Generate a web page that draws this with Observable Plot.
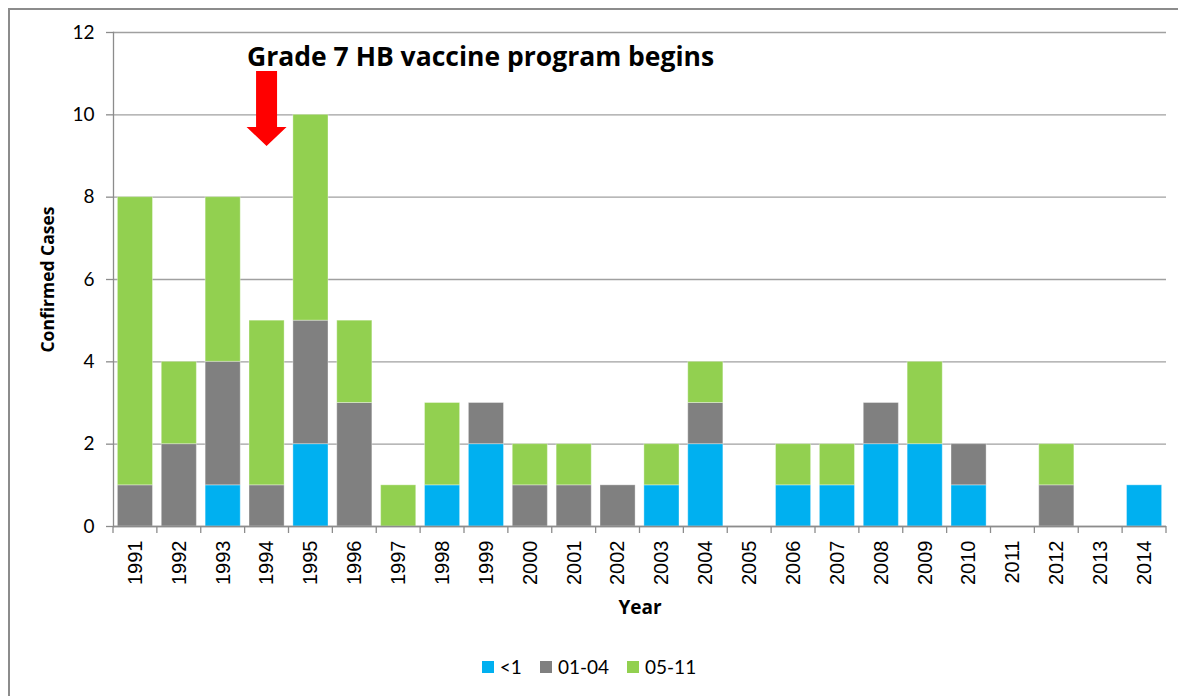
<!DOCTYPE html>
<html>
<head>
<meta charset="utf-8">
<script src="https://cdn.jsdelivr.net/npm/d3@7"></script>
<script src="https://cdn.jsdelivr.net/npm/@observablehq/plot@0.6"></script>
<style>
  html, body { margin: 0; padding: 0; background: #fff; }
  #wrap { position: relative; width: 1178px; height: 696px; overflow: hidden; }
  #frame { position: absolute; left: 8px; top: 8px; width: 1200px; height: 720px; border-left: 2px solid #8c8c8c; border-top: 2px solid #8c8c8c; box-sizing: border-box; pointer-events: none; }
  #legend { position: absolute; left: 0; width: 1178px; top: 655px; display: flex; justify-content: center; gap: 18px; font-family: Lato, sans-serif; font-size: 19px; color: #000; }
  #legend .item { display: flex; align-items: center; gap: 6px; }
  #legend .sw { width: 12px; height: 12px; display: inline-block; }
</style>
</head>
<body>
<div id="wrap">
  <div id="chart"></div>
  <div id="legend"></div>
  <div id="frame"></div>
</div>
<script>
const years = ["1991","1992","1993","1994","1995","1996","1997","1998","1999","2000","2001","2002","2003","2004","2005","2006","2007","2008","2009","2010","2011","2012","2013","2014"];
const seriesNames = ["<1", "01-04", "05-11"];
const under1   = [0,0,1,0,2,0,0,1,2,0,0,0,1,2,0,1,1,2,2,1,0,0,0,1];
const age01_04 = [1,2,3,1,3,3,0,0,1,1,1,1,0,1,0,0,0,1,0,1,0,1,0,0];
const age05_11 = [7,2,4,4,5,2,1,2,0,1,1,0,1,1,0,1,1,0,2,0,0,1,0,0];
const colors = ["#00B0F0", "#808080", "#92D050"];
const yTicks = [0, 2, 4, 6, 8, 10, 12];
const annotationText = "Grade 7 HB vaccine program begins";
const annotationYear = "1994";
const arrowTop = 11.05, arrowTip = 9.23, annotationY = 11.4;

const seriesValues = [under1, age01_04, age05_11];
const data = [];
years.forEach((yr, i) => {
  seriesNames.forEach((s, j) => {
    data.push({year: yr, group: s, value: seriesValues[j][i]});
  });
});

function boundaryTicks() {
  return (index, scales, values, dimensions) => {
    const x = scales.x;
    const step = x.step ? x.step() : (dimensions.width - dimensions.marginLeft - dimensions.marginRight) / years.length;
    const bw = x.bandwidth ? x.bandwidth() : step * 0.8;
    const yb = scales.y(0);
    const g = d3.create("svg:g");
    const pos = years.map(y => x(y) - (step - bw) / 2);
    pos.push(x(years[years.length - 1]) + bw + (step - bw) / 2);
    for (const p of pos) {
      g.append("line").attr("x1", p).attr("x2", p).attr("y1", yb).attr("y2", yb + 7)
        .attr("stroke", "#8c8c8c").attr("stroke-width", 1.3);
    }
    return g.node();
  };
}

function arrowMark() {
  return (index, scales) => {
    const x = scales.x;
    const bw = x.bandwidth ? x.bandwidth() : 35;
    const cx = x(annotationYear) + bw / 2;
    const yTop = scales.y(arrowTop), yTip = scales.y(arrowTip);
    const headH = 19, shaftHalf = 10.5, headHalf = 20;
    const yNeck = yTip - headH;
    const path = `M${cx - shaftHalf},${yTop} L${cx + shaftHalf},${yTop} L${cx + shaftHalf},${yNeck} L${cx + headHalf},${yNeck} L${cx},${yTip} L${cx - headHalf},${yNeck} L${cx - shaftHalf},${yNeck} Z`;
    return d3.create("svg:path").attr("d", path).attr("fill", "#FF0000").node();
  };
}

const plot = Plot.plot({
  width: 1178,
  height: 696,
  marginLeft: 113,
  marginRight: 12,
  marginTop: 32,
  marginBottom: 170,
  style: {background: "transparent", fontFamily: "Lato, sans-serif"},
  x: {domain: years, paddingInner: 0.2, paddingOuter: 0.1, round: false, label: null, axis: null},
  y: {domain: [0, 12], label: null, axis: null},
  color: {domain: seriesNames, range: colors},
  marks: [
    Plot.ruleY(yTicks, {stroke: "#a0a0a0", strokeWidth: 1.3, strokeOpacity: 1}),
    Plot.barY(data, Plot.stackY({filter: d => d.value > 0, x: "year", y: "value", fill: "group", order: seriesNames, stroke: "#ffffff", strokeOpacity: 0.35, strokeWidth: 1})),
    Plot.axisY(yTicks, {anchor: "left", tickSize: 7, tickPadding: 12, fontSize: 19, fill: "#000", stroke: "#8c8c8c", strokeWidth: 1.3, strokeOpacity: 1, label: null, fontFamily: "Lato, sans-serif"}),
    Plot.frame({anchor: "left", stroke: "#8c8c8c", strokeWidth: 1.3}),
    Plot.ruleY([0], {stroke: "#8c8c8c", strokeWidth: 1.3}),
    Plot.axisX(years, {anchor: "bottom", tickSize: 0, tickRotate: -90, tickPadding: 14, fontSize: 20, fill: "#000", label: null, fontFamily: "'Liberation Sans', Arial, sans-serif"}),
    boundaryTicks(),
    arrowMark(),
    Plot.text([annotationText], {x: () => annotationYear, y: () => annotationY, text: d => d, textAnchor: "start", dx: -20, fontSize: 26.5, fontWeight: "bold", fill: "#000", fontFamily: "'Open Sans', sans-serif"}),
    Plot.text(["Confirmed Cases"], {frameAnchor: "left", text: d => d, textAnchor: "middle", rotate: -90, dx: -65, fontSize: 17.5, fontWeight: "bold", fill: "#000", fontFamily: "'Open Sans', sans-serif"}),
    Plot.text(["Year"], {frameAnchor: "bottom", text: d => d, dy: 87, fontSize: 19, fontWeight: "bold", fill: "#000", fontFamily: "'Open Sans', sans-serif"})
  ]
});

document.getElementById("chart").appendChild(plot);

const legend = document.getElementById("legend");
seriesNames.forEach((s, i) => {
  const item = document.createElement("div");
  item.className = "item";
  const sw = document.createElement("span");
  sw.className = "sw";
  sw.style.background = colors[i];
  const t = document.createElement("span");
  t.textContent = s;
  item.appendChild(sw);
  item.appendChild(t);
  legend.appendChild(item);
});
</script>
</body>
</html>
